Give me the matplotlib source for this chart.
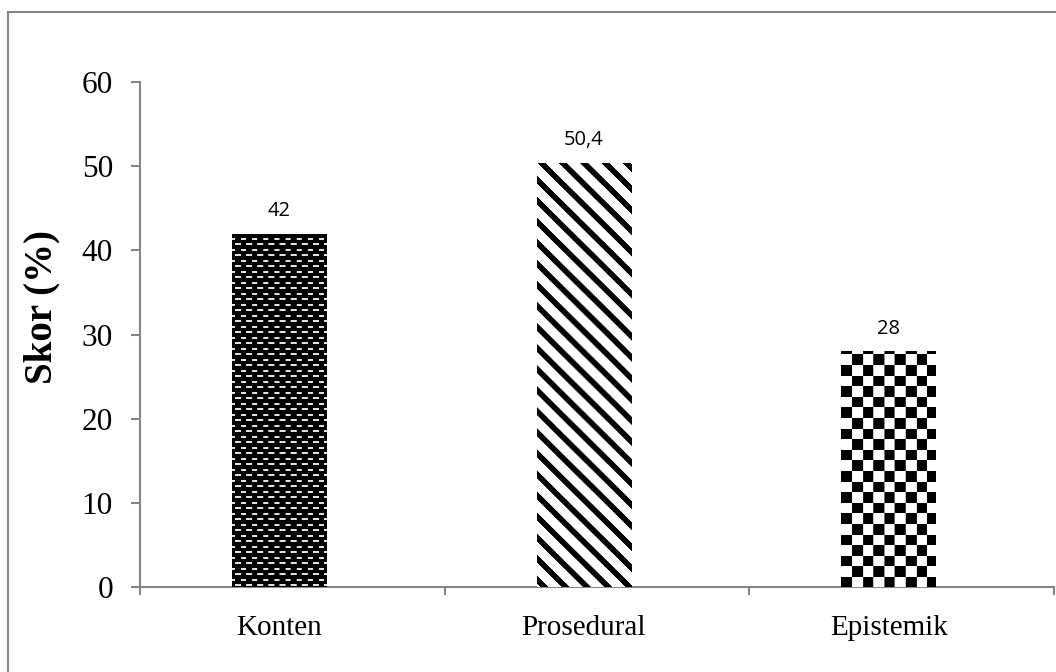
import numpy as np
import matplotlib.pyplot as plt
from matplotlib.patches import Rectangle

categories = ["Konten", "Prosedural", "Epistemik"]
scores = [42, 50.4, 28]
score_labels = ["42", "50,4", "28"]
y_ticks = [0, 10, 20, 30, 40, 50, 60]

GREY = "#868686"


def dash_texture(h, w):
    # short light dashes on black, each row shifted by half a period
    rows, cols = np.mgrid[0:h, 0:w]
    band = np.floor((h - rows) / 5.5)
    r = (h - rows) - band * 5.5
    shift = (band % 2) * 5.5
    c = (cols + shift) % 11
    on = (r >= 1.5) & (r < 3.5) & (c >= 3) & (c < 8.5)
    return np.where(on, 0.88, 0.0)


def stripe_texture(h, w):
    rows, cols = np.mgrid[0:h, 0:w]
    return np.where((cols - rows) % 21 < 8, 0.0, 1.0)


def checker_texture(h, w):
    rows, cols = np.mgrid[0:h, 0:w]
    s = 10.6
    k = (np.floor((h - rows) / s) + np.floor(cols / s)) % 2
    return np.where(k == 0, 0.0, 1.0)


textures = [dash_texture, stripe_texture, checker_texture]

fig = plt.figure(figsize=(10.56, 6.72), dpi=100)
ax = fig.add_axes([140 / 1056, 1 - 587 / 672, 914 / 1056, 505 / 672])

x = np.arange(len(categories)) - 0.043
width = 0.31
bars = ax.bar(x, scores, width=width, color="white", edgecolor="none", zorder=2)

ax.set_xlim(-0.5, 2.5)
ax.set_ylim(0, 60)

for bar, tex in zip(bars, textures):
    x0, y0 = bar.get_x(), bar.get_y()
    x1, y1 = x0 + bar.get_width(), y0 + bar.get_height()
    p0 = ax.transData.transform((x0, y0))
    p1 = ax.transData.transform((x1, y1))
    w_px = max(int(round(p1[0] - p0[0])), 1)
    h_px = max(int(round(p1[1] - p0[1])), 1)
    im = ax.imshow(tex(h_px, w_px), cmap="gray", vmin=0, vmax=1,
                   extent=(x0, x1, y0, y1), aspect="auto",
                   interpolation="antialiased", zorder=3)
    im.set_clip_path(bar)

ax.set_xlim(-0.5, 2.5)
ax.set_ylim(0, 60)

for xi, v, lab in zip(x, scores, score_labels):
    ax.annotate(lab, (xi, v), xytext=(0, 9), textcoords="offset points",
                ha="center", va="bottom", fontsize=14.5, family="Open Sans")

serif = "Liberation Serif"
ax.set_yticks(y_ticks)
ax.set_yticklabels([str(t) for t in y_ticks], fontsize=22.5, family=serif)
ax.set_xticks(x)
ax.set_xticklabels(categories, fontsize=21, family=serif)
ax.set_xticks([-0.5, 0.5, 1.5, 2.5], minor=True)
ax.tick_params(axis="x", which="major", length=0, pad=20)
ax.tick_params(axis="x", which="minor", length=6, width=1.5, color=GREY, direction="out")
ax.tick_params(axis="y", length=6.5, width=1.5, color=GREY, direction="out", pad=13)

for side in ["top", "right"]:
    ax.spines[side].set_visible(False)
for side in ["left", "bottom"]:
    ax.spines[side].set_color(GREY)
    ax.spines[side].set_linewidth(1.5)

fig.text(42 / 1056, 1 - 307 / 672, "Skor (%)", rotation=90, ha="center", va="center",
         fontsize=28, family=serif, fontweight="bold")

# chart area frame
fig.patches.append(Rectangle((8 / 1056, -0.2), 1.5, 1.2 - 12 / 672,
                             transform=fig.transFigure, fill=False,
                             edgecolor=GREY, linewidth=1.5))

fig.savefig("out.png", dpi=100)
